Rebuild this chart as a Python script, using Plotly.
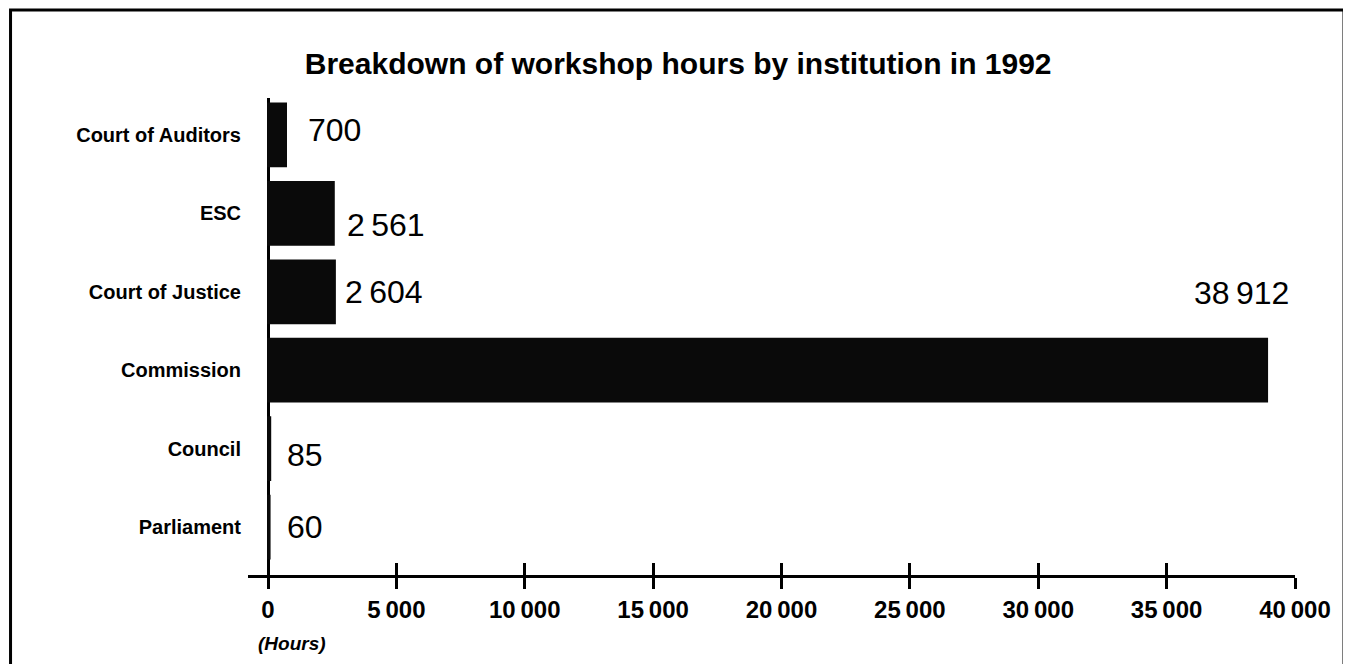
import plotly.graph_objects as go

# Data (bottom to top, as the y axis draws it)
institutions = ["Parliament", "Council", "Commission", "Court of Justice", "ESC", "Court of Auditors"]
hours = [60, 85, 38912, 2604, 2561, 700]
tick_values = [0, 5000, 10000, 15000, 20000, 25000, 30000, 35000, 40000]
tick_labels = ["0", "5\u2009000", "10\u2009000", "15\u2009000", "20\u2009000",
               "25\u2009000", "30\u2009000", "35\u2009000", "40\u2009000"]

FONT = "Liberation Sans, Arial, sans-serif"


def fmt(v):
    return f"{v:,}".replace(",", "\u2009")


fig = go.Figure()

fig.add_trace(go.Bar(
    x=hours,
    y=institutions,
    orientation="h",
    width=0.8,
    marker=dict(color="#0a0a0a", line=dict(width=2, color="#0a0a0a")),
    hoverinfo="x+y",
    showlegend=False,
))

# value labels: per-label nudges (xshift, yshift, anchor)
nudges = {
    "Parliament": (15, 0, "left"),
    "Council": (15, -6, "left"),
    "Commission": (24, 77, "right"),
    "Court of Justice": (8, 0, "left"),
    "ESC": (11, -12, "left"),
    "Court of Auditors": (20, 5, "left"),
}
for name, v in zip(institutions, hours):
    dx, dy, anchor = nudges[name]
    fig.add_annotation(
        x=v, y=name, text=fmt(v), showarrow=False,
        xanchor=anchor, yanchor="middle", xshift=dx, yshift=dy,
        font=dict(family=FONT, size=32, color="black"),
    )

fig.add_annotation(
    xref="paper", yref="paper", x=0.042, y=-0.1426,
    text="<b><i>(Hours)</i></b>", showarrow=False,
    xanchor="center", yanchor="middle",
    font=dict(family=FONT, size=19, color="black"),
)

# frame around the whole chart
fig.add_shape(
    type="rect", xref="paper", yref="paper",
    x0=-0.2268, x1=1.0468, y0=-0.21, y1=1.1845,
    line=dict(color="black", width=3), layer="above",
)

fig.update_layout(
    width=1343,
    height=656,
    margin=dict(l=240, r=56, t=90, b=89),
    paper_bgcolor="white",
    plot_bgcolor="white",
    title=dict(
        text="<b>Breakdown of workshop hours by institution in 1992</b>",
        x=0.499, y=0.916, xanchor="center", yanchor="middle",
        font=dict(family=FONT, size=30, color="black"),
    ),
    xaxis=dict(
        range=[-780, 40000],
        tickmode="array",
        tickvals=tick_values,
        ticktext=[f"<b>{t}</b>" for t in tick_labels],
        tickfont=dict(family=FONT, size=24, color="black"),
        ticks="outside", ticklen=11, tickwidth=3, tickcolor="black",
        ticklabelstandoff=0,
        showline=True, linewidth=3, linecolor="black",
        showgrid=False,
        zeroline=True, zerolinewidth=3, zerolinecolor="black",
        fixedrange=True,
    ),
    xaxis2=dict(
        overlaying="x", matches="x", anchor="y", side="bottom",
        range=[-780, 40000],
        tickmode="array", tickvals=tick_values,
        ticks="inside", ticklen=12, tickwidth=3, tickcolor="black",
        showticklabels=False, showgrid=False, zeroline=False, showline=False,
    ),
    yaxis=dict(
        type="category",
        categoryorder="array",
        categoryarray=institutions,
        range=[-0.61, 5.47],
        ticktext=[f"<b>{n}</b>" for n in institutions],
        tickvals=institutions,
        tickfont=dict(family=FONT, size=20, color="black"),
        ticks="", ticklabelstandoff=6,
        showline=False, showgrid=False, zeroline=False,
        fixedrange=True,
    ),
    bargap=0.2,
)

# keep the overlay axis alive with an empty trace
fig.add_trace(go.Scatter(x=[None], y=[None], xaxis="x2", mode="markers",
                         showlegend=False, hoverinfo="skip"))

fig.write_html("out.html")
